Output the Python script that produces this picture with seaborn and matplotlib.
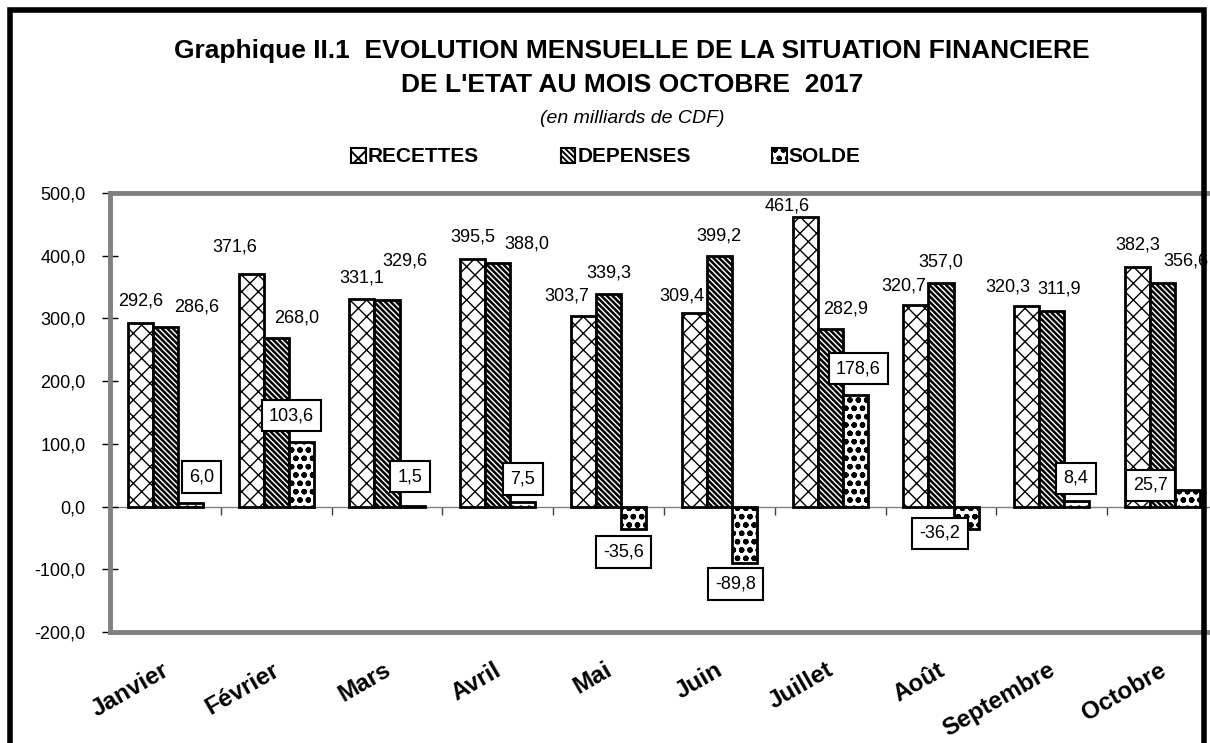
import numpy as np
import pandas as pd
import matplotlib
matplotlib.use('Agg')
import matplotlib.pyplot as plt
import matplotlib.transforms as mtrans
import seaborn as sns
from matplotlib.patches import Patch, Rectangle

mois = ['Janvier', 'Février', 'Mars', 'Avril', 'Mai', 'Juin', 'Juillet', 'Août', 'Septembre', 'Octobre']
recettes = [292.6, 371.6, 331.1, 395.5, 303.7, 309.4, 461.6, 320.7, 320.3, 382.3]
depenses = [286.6, 268.0, 329.6, 388.0, 339.3, 399.2, 282.9, 357.0, 311.9, 356.6]
solde = [6.0, 103.6, 1.5, 7.5, -35.6, -89.8, 178.6, -36.2, 8.4, 25.7]
series = ['RECETTES', 'DEPENSES', 'SOLDE']
yticks = [-200, -100, 0, 100, 200, 300, 400, 500]

# decalage des etiquettes en pixels (placees a la main dans l'original)
dx_rec = [0, -16, 0, 0, -17, -12, -18, -12, -19, 0]
dy_rec = [22, 27, 21, 22, 20, 17, 11, 19, 19, 22]
dx_dep = [31, 20, 18, 29, 0, 0, 15, 0, 7, 23]
dy_dep = [20, 20, 39, 19, 21, 20, 20, 21, 22, 22]
dx_sol = [11, -10, -2, 0, -10, -9, 3, -26, -1, -37]
dy_sol = [26, 26, 29, 23, 23, 21, 26, 4, 23, 5]

hatches = ['xx', '\\' * 6, 'oo']
hatch_lw = [1.0, 1.8, 1.6]

def fmt(v):
    return f"{v:.1f}".replace('.', ',')

def main():
    W, H = 1210, 743
    sns.set_style('white')
    plt.rcParams['font.family'] = ['Liberation Sans', 'DejaVu Sans']
    plt.rcParams['text.color'] = 'black'
    plt.rcParams['xtick.color'] = 'black'
    plt.rcParams['ytick.color'] = 'black'
    plt.rcParams['hatch.linewidth'] = 1.4

    df = pd.DataFrame({
        'mois': mois * 3,
        'valeur': recettes + depenses + solde,
        'serie': [s for s in series for _ in mois],
    })

    fig = plt.figure(figsize=(W / 100, H / 100), dpi=100)
    ax = fig.add_axes([110 / W, 111 / H, 1108 / W, 439 / H])

    sns.barplot(data=df, x='mois', y='valeur', hue='serie', hue_order=series,
                palette=['white'] * 3, width=0.68, edgecolor='black', linewidth=2,
                legend=False, ax=ax, errorbar=None)

    for cont, h, lw in zip(ax.containers, hatches, hatch_lw):
        for bar in cont:
            bar.set_hatch(h)
            if hasattr(bar, 'set_hatch_linewidth'):
                bar.set_hatch_linewidth(lw)

    # etiquettes
    offs = [(recettes, dx_rec, dy_rec, False), (depenses, dx_dep, dy_dep, False),
            (solde, dx_sol, dy_sol, True)]
    for cont, (vals, dxs, dys, boxed) in zip(ax.containers, offs):
        for bar, v, dx, dy in zip(cont, vals, dxs, dys):
            xc = bar.get_x() + bar.get_width() / 2
            oy = dy if v >= 0 else -dy
            kw = {}
            if boxed:
                kw['bbox'] = dict(boxstyle='square,pad=0.4', fc='white', ec='black', lw=1.5)
            ax.annotate(fmt(v), (xc, v), xytext=(dx, oy), textcoords='offset pixels',
                        ha='center', va='center', fontsize=13, zorder=5, **kw)

    ax.set_ylim(-200, 500)
    ax.set_yticks(yticks)
    ax.set_yticklabels([fmt(v) for v in yticks], fontsize=13)
    ax.tick_params(axis='y', direction='inout', length=11, width=1, color='black', pad=12, left=True)
    ax.set_xlabel('')
    ax.set_ylabel('')
    ax.set_xticks(range(len(mois)))
    ax.set_xticklabels(mois, rotation=30, ha='right', rotation_mode='anchor',
                       fontsize=17.5, fontweight='bold')
    ax.tick_params(axis='x', length=0, pad=19)
    shift = mtrans.ScaledTranslation(-4 / 100, 0, fig.dpi_scale_trans)
    for lbl in ax.get_xticklabels():
        lbl.set_transform(lbl.get_transform() + shift)

    for s in ax.spines.values():
        s.set_color('#808080')
        s.set_linewidth(3.5)

    # axe du zero avec graduations entre les mois
    sec = ax.secondary_xaxis(0, transform=ax.transData)
    sec.set_xticks(np.arange(1, len(mois)) - 0.5)
    sec.set_xticklabels([])
    sec.spines['bottom'].set_color('#808080')
    sec.spines['bottom'].set_linewidth(1)
    sec.tick_params(direction='out', length=6, color='#404040', width=1)

    # titre
    fig.text(632 / W, 1 - 58 / H, "Graphique II.1  EVOLUTION MENSUELLE DE LA SITUATION FINANCIERE",
             ha='center', va='baseline', fontsize=19, fontweight='bold')
    fig.text(632 / W, 1 - 92 / H, "DE L'ETAT AU MOIS OCTOBRE  2017",
             ha='center', va='baseline', fontsize=19, fontweight='bold')
    fig.text(632 / W, 1 - 123 / H, "(en milliards de CDF)",
             ha='center', va='baseline', fontsize=14, style='italic')

    handles = [Patch(facecolor='white', edgecolor='black', hatch=h, linewidth=1.5) for h in hatches]
    fig.legend(handles, series, loc='center', bbox_to_anchor=(606 / W, 1 - 157 / H), ncol=3,
               frameon=False, handlelength=0.7, handleheight=0.7, handletextpad=0.1,
               columnspacing=3.9, prop={'weight': 'bold', 'size': 15})

    # cadre
    fig.add_artist(Rectangle((10 / W, -0.1), 1194 / W, 1.1 - 10 / H, transform=fig.transFigure,
                             fill=False, lw=4, ec='black'))

    fig.savefig('out.png', dpi=100)

if __name__ == "__main__":
    main()
